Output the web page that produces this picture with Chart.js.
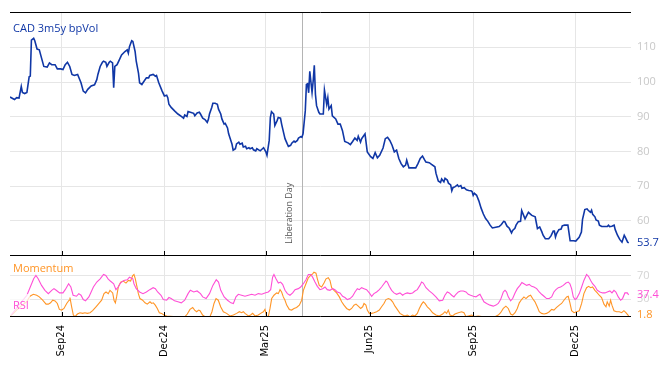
<!DOCTYPE html>
<html>
<head>
<meta charset="utf-8">
<title>CAD 3m5y bpVol</title>
<script src="https://cdn.jsdelivr.net/npm/chart.js@4.4.1/dist/chart.umd.min.js"></script>
<style>
  html, body { margin: 0; padding: 0; background: #fff; }
  #chart { display: block; }
</style>
</head>
<body>
<canvas id="chart" width="668" height="366"></canvas>
<script>
// ============================================
// CAD 3m5y bpVol — vol panel + RSI / Momentum panel
// ============================================

// day offsets are counted from START (first observation)
const START = '2024-07-17';
const END_DAY = 551;

const tickDates = ['2024-09-01', '2024-12-01', '2025-03-01', '2025-06-01', '2025-09-01', '2025-12-01'];
const tickLabels = ['Sep24', 'Dec24', 'Mar25', 'Jun25', 'Sep25', 'Dec25'];
const eventDate = '2025-04-02';
const eventLabel = 'Liberation Day';

const volTicks = [60, 70, 80, 90, 100, 110];
const oscTicks = [30, 70];

// CAD 3m5y normal vol (bp)
const volDay = [0, 4, 6, 8, 10, 11, 13, 15, 17, 18, 19, 21, 22, 24, 26, 28, 30, 33, 35, 37,
  40, 42, 45, 47, 49, 51, 53, 55, 57, 60, 63, 65, 67, 69, 72, 75, 77, 78, 80, 82,
  83, 85, 86, 88, 89, 91, 92, 93, 95, 97, 99, 102, 104, 105, 106, 108, 109, 111, 112, 114,
  115, 117, 118, 121, 123, 124, 127, 129, 130, 132, 135, 137, 139, 140, 141, 143, 146, 149, 152, 154,
  155, 157, 158, 160, 163, 164, 166, 168, 169, 171, 173, 175, 176, 177, 179, 180, 182, 184, 185, 187,
  188, 190, 191, 193, 194, 195, 197, 198, 200, 201, 203, 204, 206, 207, 209, 210, 212, 213, 215, 216,
  218, 219, 221, 222, 224, 225, 227, 228, 230, 231, 232, 234, 235, 237, 238, 240, 241, 243, 244, 246,
  247, 249, 250, 252, 253, 255, 256, 258, 259, 260, 262, 263, 264, 265, 266, 268, 269, 270, 271, 272,
  274, 275, 277, 278, 279, 281, 282, 283, 285, 286, 289, 291, 293, 295, 297, 300, 302, 304, 306, 308,
  309, 311, 312, 315, 317, 320, 322, 324, 326, 328, 331, 333, 335, 337, 339, 341, 343, 345, 347, 349,
  351, 352, 354, 357, 360, 362, 364, 366, 368, 369, 372, 374, 377, 378, 380, 382, 383, 385, 386, 388,
  389, 391, 392, 393, 395, 397, 398, 400, 401, 403, 405, 407, 409, 410, 411, 412, 414, 416, 418, 420,
  422, 424, 426, 428, 431, 434, 436, 438, 439, 441, 443, 445, 446, 448, 449, 451, 453, 454, 456, 457,
  459, 460, 462, 463, 466, 467, 468, 470, 472, 473, 475, 478, 480, 482, 483, 484, 485, 487, 489, 490,
  492, 495, 496, 497, 500, 502, 505, 507, 508, 510, 512, 513, 515, 516, 517, 519, 520, 522, 523, 525,
  528, 530, 531, 532, 534, 536, 537, 539, 541, 543, 545, 546, 548, 549];
const vol = [95.7, 95.0, 95.5, 95.4, 98.7, 97.0, 96.7, 97.0, 101.5, 101.7, 112.1, 112.6, 111.9, 109.5, 109.3, 106.9, 104.5, 104.3, 105.5, 105.0,
  105.0, 103.8, 103.8, 103.6, 105.0, 105.7, 104.5, 102.2, 101.9, 102.2, 99.8, 97.4, 96.9, 97.9, 98.9, 99.2, 100.7, 102.2, 104.5, 105.7,
  106.0, 105.7, 104.5, 105.7, 106.0, 105.5, 98.4, 104.5, 105.0, 106.4, 107.8, 108.8, 109.3, 108.3, 110.2, 111.9, 111.7, 108.8, 106.0, 102.6,
  99.8, 99.3, 99.8, 101.2, 101.2, 101.9, 102.2, 101.7, 101.9, 99.8, 97.4, 96.0, 96.2, 95.5, 93.6, 92.7, 91.7, 90.8, 90.1, 89.6,
  90.5, 90.1, 91.5, 91.3, 91.0, 90.3, 91.1, 91.3, 90.8, 89.6, 89.2, 88.4, 89.2, 90.8, 92.7, 93.9, 93.9, 93.6, 92.2, 90.8,
  89.4, 87.9, 88.1, 86.8, 85.1, 84.1, 82.1, 80.4, 80.8, 82.2, 82.7, 82.1, 82.4, 81.3, 81.5, 80.8, 81.1, 80.8, 81.1, 80.5,
  80.2, 80.8, 80.4, 80.2, 80.8, 81.1, 79.9, 78.9, 83.2, 89.8, 91.5, 90.8, 87.5, 88.9, 89.8, 89.6, 87.9, 85.1, 83.7, 82.2,
  81.5, 81.8, 82.4, 83.0, 82.7, 83.2, 83.9, 84.3, 84.1, 85.1, 91.7, 99.3, 99.5, 96.9, 103.1, 97.0, 100.3, 104.8, 96.5, 93.2,
  91.3, 90.8, 90.8, 90.8, 97.7, 93.6, 95.5, 92.2, 93.2, 90.3, 89.4, 87.9, 87.9, 86.0, 82.9, 82.5, 82.0, 82.9, 83.9, 83.2,
  84.4, 82.7, 83.7, 85.1, 79.9, 78.5, 78.0, 79.7, 78.2, 78.9, 81.0, 83.7, 84.1, 83.2, 81.8, 79.9, 80.4, 78.0, 76.5, 75.6,
  76.1, 77.5, 75.3, 75.3, 75.3, 76.5, 78.0, 78.7, 77.5, 77.0, 76.8, 76.3, 75.6, 73.7, 71.5, 71.1, 72.1, 71.3, 72.3, 71.8,
  70.9, 70.4, 68.7, 69.6, 69.9, 70.4, 69.9, 70.2, 69.4, 69.6, 69.0, 68.8, 68.7, 68.5, 67.4, 68.0, 67.4, 65.8, 63.7, 62.0,
  60.7, 59.9, 58.8, 58.0, 58.2, 58.4, 59.0, 59.9, 59.8, 58.5, 57.9, 56.6, 57.3, 57.9, 58.8, 59.8, 59.9, 63.0, 61.4, 60.6,
  61.9, 62.5, 61.9, 61.6, 61.2, 59.5, 57.8, 58.3, 56.8, 55.9, 54.9, 54.9, 55.7, 57.1, 57.1, 55.4, 56.4, 57.5, 57.7, 58.6,
  58.8, 58.8, 56.6, 54.3, 54.3, 54.2, 55.3, 56.8, 60.5, 63.3, 63.5, 63.1, 62.5, 63.1, 61.9, 61.2, 60.3, 60.0, 58.8, 58.4,
  58.4, 58.4, 58.8, 58.4, 58.5, 58.8, 57.5, 55.9, 54.7, 53.9, 55.9, 55.3, 53.9, 53.7];

// RSI
const rsiDay = [1, 9, 15, 18, 21, 23, 25, 28, 31, 34, 37, 39, 41, 44, 47, 49, 52, 54, 56, 59,
  61, 63, 65, 67, 70, 72, 74, 77, 80, 83, 85, 87, 89, 92, 94, 96, 98, 101, 104, 106,
  109, 110, 112, 115, 118, 121, 124, 127, 129, 131, 134, 136, 139, 141, 143, 146, 149, 152, 155, 158,
  160, 163, 166, 169, 171, 174, 177, 180, 183, 185, 187, 190, 193, 196, 198.2, 200.5, 202.6, 205.5, 208.5, 211.5,
  214.4, 217.4, 220.3, 223.3, 226.2, 229.2, 231.3, 233, 234.2, 236, 238.1, 240.1, 241.9, 244, 246.1, 248.4, 250.8, 252.9, 255.8, 257.9,
  260.3, 262.6, 264.7, 266.8, 268.5, 270.6, 272.7, 275, 277.4, 279.5, 281.5, 283.9, 286.3, 288.3, 290.4, 292.8, 295.1, 297.2, 299.3, 301.7,
  304, 306.1, 308.2, 309.9, 312, 314.1, 316.4, 318.8, 320.9, 322.9, 325.3, 327.7, 329.7, 331.8, 333.6, 334.8, 336.5, 338.6, 340.7, 343,
  346, 348.4, 350.4, 352.5, 354.9, 357.2, 359.3, 361.4, 363.7, 365.2, 366.7, 369.1, 372, 375, 377.9, 380.9, 383.9, 385.9, 388, 389.8,
  391.9, 393.9, 395.7, 397.8, 399.8, 402.2, 404.6, 406.6, 408.7, 411.1, 413.4, 415.5, 417, 418.5, 420.5, 422.9, 425.9, 428.8, 431.2, 433.2,
  435.3, 437.7, 439.2, 440.6, 442.1, 444.2, 446, 448.1, 450.1, 452.5, 454.2, 456, 458.4, 460.7, 462.8, 464.9, 467.3, 469.6, 471.7, 473.8,
  476.1, 478.5, 480.6, 482.6, 484.4, 486.5, 488.5, 490.9, 493.3, 495.3, 496.8, 498.3, 499.8, 501.3, 502.7, 505.1, 507.2, 509.2, 511.6, 513.4,
  515.2, 516.9, 519, 521.1, 523.4, 525.8, 527.9, 529.9, 532.3, 534.1, 535.9, 537.6, 539.7, 541.8, 543.5, 545.6, 547.7, 548.9];
const rsi = [3.3, 22.8, 36.7, 50.6, 64.4, 70.0, 64.4, 53.3, 45.0, 39.4, 45.0, 47.8, 45.0, 40.6, 40.6, 46.1, 56.1, 50.6, 36.7, 35.0,
  39.4, 36.7, 29.4, 27.2, 33.9, 42.2, 50.6, 58.9, 64.4, 71.7, 70.0, 64.4, 60.6, 56.1, 46.1, 50.6, 57.2, 61.7, 62.8, 67.2,
  64.4, 56.1, 47.8, 42.2, 39.4, 42.2, 46.1, 49.4, 47.8, 42.2, 36.7, 29.4, 28.3, 32.8, 31.1, 27.2, 25.6, 23.9, 28.3, 39.4,
  45.0, 42.2, 43.9, 39.4, 33.9, 31.1, 39.4, 53.3, 62.8, 58.9, 45.0, 33.9, 28.3, 23.9, 22.8, 33.9, 38.3, 36.7, 35.0, 36.7,
  38.3, 36.7, 39.4, 38.3, 40.6, 42.2, 46.1, 67.2, 71.7, 64.4, 57.2, 58.9, 55.0, 45.0, 39.4, 36.7, 40.6, 46.1, 47.8, 50.6,
  56.1, 62.8, 71.7, 71.7, 67.2, 58.9, 51.7, 46.1, 47.8, 50.6, 46.1, 45.0, 47.8, 46.1, 42.2, 40.6, 35.0, 32.8, 29.4, 31.1,
  35.0, 42.2, 47.8, 46.1, 49.4, 47.8, 46.1, 40.6, 35.0, 39.4, 42.2, 46.1, 50.6, 56.1, 60.6, 58.9, 51.7, 45.0, 40.6, 38.3,
  40.6, 36.7, 39.4, 40.6, 39.4, 40.6, 43.9, 46.1, 53.3, 58.9, 57.2, 49.4, 43.9, 39.4, 33.9, 27.2, 28.3, 36.7, 42.2, 40.6,
  36.7, 33.9, 38.3, 42.2, 43.9, 43.9, 42.2, 38.3, 36.7, 35.0, 33.9, 36.7, 38.3, 32.8, 25.6, 22.8, 20.0, 18.3, 20.0, 22.8,
  29.4, 42.2, 45.0, 42.2, 33.9, 27.2, 31.1, 40.6, 47.8, 53.3, 58.3, 56.1, 53.3, 55.0, 51.7, 50.6, 47.8, 42.2, 38.3, 35.0,
  31.1, 31.1, 33.9, 42.2, 46.1, 49.4, 50.6, 53.3, 57.2, 58.9, 56.1, 47.8, 33.9, 29.4, 31.1, 39.4, 50.6, 61.7, 71.7, 68.3,
  61.7, 56.1, 51.7, 45.0, 42.2, 40.6, 40.6, 42.2, 43.9, 40.6, 45.0, 42.2, 33.9, 28.3, 31.1, 40.6, 40.6, 37.4];

// Momentum
const momDay = [0, 8.9, 14.8, 17.7, 20.7, 23.7, 26, 29, 32, 34, 36, 37.9, 40, 42, 43.8, 45.8, 47.9, 50.3, 52.4, 53.2,
  54.7, 56.2, 57.7, 59.8, 62.1, 64.5, 66.5, 68.6, 71, 73.3, 76.3, 79.3, 81.3, 83.4, 85.2, 87.2, 88.7, 91.1, 92.3, 93.5,
  94.6, 96.1, 98.2, 100.5, 102.9, 105, 107, 108.9, 110, 111.2, 112.4, 113.9, 115.3, 117.7, 119.8, 121.8, 124.2, 125.7, 127.2, 128.9,
  130.7, 132.5, 134.5, 136.6, 139, 144.9, 150.8, 155.3, 157.3, 159.7, 162.1, 163.8, 165.6, 167.4, 168.6, 170.9, 173, 177.4, 179.2, 181,
  182.8, 184.8, 186.9, 189.3, 192.2, 195.2, 198.2, 201.1, 203.5, 205.5, 207, 208.5, 211.5, 213.5, 215.3, 217.4, 220.3, 222.4, 224.8, 226.2,
  227.7, 229.2, 230.7, 232.2, 234.2, 236.6, 238.1, 239.6, 241, 242.5, 244, 245.5, 247.8, 249.9, 252, 254.3, 256.7, 258.8, 260.3, 262.6,
  264.7, 266.8, 268.5, 269.7, 271.5, 272.7, 274.4, 276.5, 278.6, 280.4, 282.4, 283.9, 285.4, 287.5, 289.8, 292.2, 294.3, 296.3, 298.7, 301.1,
  303.1, 305.2, 307, 309, 311.1, 312.9, 314.1, 315.8, 317, 318.8, 320.9, 322.9, 325.3, 327.7, 329.7, 331.8, 333.6, 335.7, 337.7, 339.5,
  341.6, 343.6, 346, 348.4, 350.4, 352.5, 354.9, 357.2, 359.3, 361.4, 363.2, 365.2, 366.7, 368.2, 370.3, 372.6, 375, 377.9, 380.9, 383.9,
  385.9, 387.4, 388.9, 390.4, 392.7, 394.8, 397.8, 400.7, 402.8, 404.6, 406.6, 409.6, 412.5, 415.5, 418.5, 425.9, 430.3, 433.2, 435.3, 437.7,
  440, 442.1, 444.2, 446, 448.1, 450.1, 451.9, 453.9, 456, 457.8, 459.9, 461.9, 463.7, 465.8, 467.8, 469.6, 471.7, 473.8, 476.1, 478.5,
  480.6, 482.6, 485, 487.4, 489.4, 491.5, 493.9, 495.3, 496.8, 498.3, 500.4, 502.7, 505.1, 507.2, 509.2, 511.6, 513.4, 515.2, 516.9, 519,
  521.1, 522.8, 524.9, 527, 528.8, 529.9, 531.7, 532.9, 534.1, 535.9, 538.2, 540.6, 542.7, 544.7, 546.5, 548.9];
const mom = [0.6, 17.2, 25.6, 35.0, 38.3, 36.7, 33.9, 28.3, 21.7, 21.7, 23.9, 28.3, 27.2, 22.8, 12.8, 11.7, 14.4, 22.8, 28.3, 32.8,
  17.2, 3.3, 0.6, 5.0, 7.2, 6.1, 7.2, 6.1, 7.2, 10.6, 17.2, 23.9, 28.3, 39.4, 42.2, 39.4, 45.0, 40.6, 28.3, 23.9,
  33.9, 50.6, 58.9, 60.6, 57.2, 61.7, 60.6, 70.0, 71.7, 64.4, 53.3, 39.4, 31.1, 28.3, 23.9, 21.7, 25.6, 22.8, 23.9, 20.0,
  14.4, 7.2, 6.1, 3.3, 1.7, 0.6, 0.6, 0.6, 5.0, 12.8, 16.1, 11.7, 8.9, 11.7, 10.6, 3.3, 0.6, 0.6, 8.9, 22.8,
  31.1, 28.3, 17.2, 8.9, 6.1, 1.7, 3.3, 6.1, 8.9, 7.2, 8.9, 6.1, 1.7, 3.3, 6.1, 1.7, 3.3, 6.1, 8.9, 12.8,
  1.7, 0.6, 14.4, 31.1, 36.7, 40.6, 39.4, 46.1, 42.2, 33.9, 28.3, 20.0, 12.8, 11.7, 14.4, 16.1, 20.0, 28.3, 45.0, 56.1,
  66.1, 70.0, 72.8, 75.6, 73.9, 64.4, 53.3, 50.6, 57.2, 64.4, 66.1, 61.7, 49.4, 45.0, 40.6, 33.9, 25.6, 20.0, 14.4, 11.7,
  14.4, 20.0, 21.7, 18.3, 14.4, 17.2, 22.8, 20.0, 11.7, 6.1, 6.1, 7.2, 8.9, 11.7, 17.2, 22.8, 29.4, 31.1, 29.4, 25.6,
  18.3, 12.8, 6.1, 3.3, 1.7, 3.3, 0.6, 3.3, 1.7, 6.1, 14.4, 21.7, 25.6, 22.8, 17.2, 12.8, 7.2, 3.3, 1.7, 5.0,
  8.9, 6.1, 11.7, 3.3, 1.7, 5.0, 7.2, 8.9, 7.2, 0.6, 1.7, 3.3, 0.6, 1.7, 0.6, 0.6, 0.6, 3.3, 7.2, 14.4,
  18.3, 14.4, 5.0, 3.3, 7.2, 14.4, 23.9, 29.4, 33.9, 31.1, 35.0, 36.7, 31.1, 25.6, 17.2, 8.9, 6.1, 5.0, 6.1, 8.9,
  12.8, 11.7, 16.1, 20.0, 22.8, 28.3, 33.9, 35.0, 23.9, 10.6, 7.2, 8.9, 10.6, 22.8, 39.4, 49.4, 51.7, 49.4, 50.6, 45.0,
  40.6, 36.7, 32.8, 21.7, 17.2, 25.6, 18.3, 28.3, 20.0, 10.6, 8.9, 8.9, 7.2, 10.6, 7.2, 1.8];

const VOL_COLOR = '#1037a6';
const RSI_COLOR = '#ff4fd6';
const MOM_COLOR = '#ff9526';

const DAY_MS = 86400000;
const toDay = (iso) => (Date.parse(iso) - Date.parse(START)) / DAY_MS;
const tickDays = tickDates.map(toDay);
const eventDay = toDay(eventDate);

const points = (days, vals) => days.map((d, i) => ({ x: d, y: vals[i] }));

// borders, inward ticks, event line and panel labels
const panelPlugin = {
  id: 'panelDecor',
  beforeDatasetsDraw(chart) {
    const { ctx, chartArea, scales } = chart;
    const xe = Math.round(scales.x.getPixelForValue(eventDay)) + 0.5;
    ctx.save();
    ctx.strokeStyle = '#b4b4b4';
    ctx.lineWidth = 1;
    ctx.beginPath();
    ctx.moveTo(xe, chartArea.top);
    ctx.lineTo(xe, chartArea.bottom);
    ctx.stroke();

    ctx.translate(xe - 13, scales.y.bottom - 12);
    ctx.rotate(-Math.PI / 2);
    ctx.fillStyle = '#555';
    ctx.font = '9px "Open Sans"';
    ctx.textAlign = 'left';
    ctx.textBaseline = 'middle';
    ctx.fillText(eventLabel, 0, 0);
    ctx.restore();
  },
  afterDatasetsDraw(chart) {
    const { ctx, chartArea, scales } = chart;
    const left = chartArea.left, right = chartArea.right;
    ctx.save();

    // black panel rules
    ctx.strokeStyle = '#000';
    ctx.lineWidth = 1;
    [scales.y.top, scales.y.bottom, scales.y2.bottom].forEach(y => {
      const yy = Math.round(y) - 0.5;
      ctx.beginPath();
      ctx.moveTo(left, yy);
      ctx.lineTo(right, yy);
      ctx.stroke();
    });
    [scales.y.bottom, scales.y2.bottom].forEach(y => {
      tickDays.forEach(d => {
        const x = Math.round(scales.x.getPixelForValue(d)) + 0.5;
        ctx.beginPath();
        ctx.moveTo(x, Math.round(y) - 5);
        ctx.lineTo(x, Math.round(y));
        ctx.stroke();
      });
    });

    // panel labels
    ctx.font = '11px "Open Sans"';
    ctx.textAlign = 'left';
    ctx.textBaseline = 'middle';
    ctx.fillStyle = VOL_COLOR;
    ctx.fillText('CAD 3m5y bpVol', left + 3, scales.y.top + 16);
    ctx.fillStyle = MOM_COLOR;
    ctx.fillText('Momentum', left + 3, scales.y2.top + 13);

    ctx.fillStyle = 'rgba(255,255,255,0.75)';
    ctx.fillRect(left, scales.y2.bottom - 23, 20, 22);
    ctx.fillStyle = RSI_COLOR;
    ctx.fillText('RSI', left + 3, scales.y2.bottom - 11);

    // last values on the right axis
    const xr = right + 6;
    ctx.fillStyle = VOL_COLOR;
    ctx.fillText(vol[vol.length - 1].toFixed(1), xr, scales.y.getPixelForValue(vol[vol.length - 1]));
    ctx.fillStyle = RSI_COLOR;
    ctx.fillText(rsi[rsi.length - 1].toFixed(1), xr, scales.y2.getPixelForValue(rsi[rsi.length - 1]));
    ctx.fillStyle = MOM_COLOR;
    ctx.fillText(mom[mom.length - 1].toFixed(1), xr, scales.y2.getPixelForValue(mom[mom.length - 1]) - 1);
    ctx.restore();
  }
};

const gridColor = '#e6e6e6';
const tickFont = { family: 'Open Sans', size: 11 };

new Chart(document.getElementById('chart'), {
  type: 'line',
  data: {
    datasets: [
      { label: 'CAD 3m5y bpVol', data: points(volDay, vol), yAxisID: 'y', borderColor: VOL_COLOR, borderWidth: 1.6, pointRadius: 0, tension: 0 },
      { label: 'RSI', data: points(rsiDay, rsi), yAxisID: 'y2', borderColor: RSI_COLOR, borderWidth: 1.1, pointRadius: 0, tension: 0 },
      { label: 'Momentum', data: points(momDay, mom), yAxisID: 'y2', borderColor: MOM_COLOR, borderWidth: 1.1, pointRadius: 0, tension: 0 }
    ]
  },
  options: {
    responsive: false,
    animation: false,
    layout: { padding: { left: 10, top: 9, right: 0, bottom: 0 } },
    plugins: { legend: { display: false }, tooltip: { enabled: false } },
    scales: {
      x: {
        type: 'linear',
        min: 0,
        max: END_DAY,
        afterBuildTicks: (s) => { s.ticks = tickDays.map(v => ({ value: v })); },
        afterFit: (s) => { s.height = 49; },
        ticks: {
          autoSkip: false,
          minRotation: 90,
          maxRotation: 90,
          padding: 8,
          color: '#000',
          font: { family: 'DejaVu Sans', size: 10 },
          callback: (v, i) => tickLabels[i]
        },
        grid: { color: gridColor, drawTicks: false },
        border: { display: false }
      },
      y: {
        position: 'right',
        stack: 'panels',
        stackWeight: 246,
        min: 50,
        max: 120,
        afterBuildTicks: (s) => { s.ticks = volTicks.map(v => ({ value: v })); },
        afterFit: (s) => { s.width = 37; },
        ticks: { padding: 6, color: '#c8c8c8', font: tickFont },
        grid: { color: gridColor, drawTicks: false },
        border: { display: false }
      },
      y2: {
        position: 'right',
        stack: 'panels',
        stackWeight: 62,
        min: 0,
        max: 103.3,
        afterBuildTicks: (s) => { s.ticks = oscTicks.map(v => ({ value: v })); },
        afterFit: (s) => { s.width = 37; },
        ticks: { padding: 6, color: '#d4d4d4', font: tickFont },
        grid: { color: gridColor, drawTicks: false },
        border: { display: false }
      }
    }
  },
  plugins: [panelPlugin]
});
</script>
</body>
</html>
